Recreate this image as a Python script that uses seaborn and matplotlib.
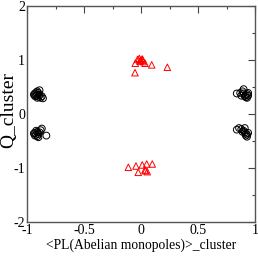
import matplotlib
matplotlib.use("Agg")
import matplotlib.pyplot as plt
from matplotlib.ticker import MultipleLocator
import seaborn as sns
import pandas as pd

# Black open circles (clusters near x = +-0.9)
circle_x = [-0.93, -0.92, -0.91, -0.90, -0.92, -0.93, -0.91, -0.89, -0.90, -0.94, -0.88, -0.87, -0.86, -0.89, -0.91,
            -0.93, -0.92, -0.91, -0.90, -0.93, -0.94, -0.91, -0.89, -0.92, -0.88, -0.87, -0.83, -0.90,
            0.92, 0.93, 0.91, 0.94, 0.92, 0.90, 0.93, 0.89, 0.87, 0.84, 0.90, 0.94, 0.88,
            0.92, 0.93, 0.91, 0.94, 0.92, 0.90, 0.88, 0.86, 0.84, 0.93, 0.89, 0.91]
circle_y = [0.38, 0.40, 0.36, 0.39, 0.34, 0.33, 0.42, 0.35, 0.32, 0.36, 0.30, 0.33, 0.29, 0.44, 0.30,
            -0.35, -0.38, -0.33, -0.37, -0.40, -0.36, -0.41, -0.34, -0.31, -0.30, -0.27, -0.40, -0.43,
            0.35, 0.37, 0.33, 0.34, 0.31, 0.38, 0.30, 0.42, 0.39, 0.38, 0.46, 0.39, 0.34,
            -0.36, -0.38, -0.34, -0.35, -0.40, -0.31, -0.28, -0.26, -0.29, -0.42, -0.33, -0.26]

# Red open triangles (clusters near x = 0)
tri_x = [-0.05, -0.03, -0.015, -0.003, 0.015, 0.035, 0.094, 0.231, -0.053, 0.0, -0.01, 0.02, 0.01,
         -0.111, -0.044, -0.024, 0.011, 0.05, 0.099, 0.035, 0.055, 0.04]
tri_y = [0.94, 1.01, 1.03, 0.99, 1.0, 0.94, 0.91, 0.865, 0.765, 1.0, 0.98, 0.97, 1.02,
         -0.987, -0.963, -1.08, -0.944, -0.926, -0.926, -1.037, -1.068, -1.05]

x_ticks = [-1, -0.5, 0, 0.5, 1]
x_tick_labels = ["-1", "-0.5", "0", "0.5", "1"]
y_ticks = [-2, -1, 0, 1, 2]
y_tick_labels = ["-2", "-1", "0", "1", "2"]

sns.set_theme(style="white")
plt.rcParams["font.family"] = ["Liberation Serif", "DejaVu Serif"]
plt.rcParams["axes.unicode_minus"] = False

fig = plt.figure(figsize=(2.58, 2.58), dpi=100)
ax = fig.add_axes([27/258, 36/258, 228/258, 216/258])

df_c = pd.DataFrame({"x": circle_x, "y": circle_y})
df_t = pd.DataFrame({"x": tri_x, "y": tri_y})
sns.scatterplot(data=df_c, x="x", y="y", ax=ax, marker="o", s=24,
                facecolors="none", edgecolor="black", linewidth=0.7)
sns.scatterplot(data=df_t, x="x", y="y", ax=ax, marker="^", s=22,
                facecolors="none", edgecolor="red", linewidth=0.7)

ax.set_xlim(-1, 1)
ax.set_ylim(-2, 2)
ax.set_xticks(x_ticks)
ax.set_xticklabels(x_tick_labels)
ax.set_yticks(y_ticks)
ax.set_yticklabels(y_tick_labels)
ax.xaxis.set_minor_locator(MultipleLocator(0.25))
ax.yaxis.set_minor_locator(MultipleLocator(0.5))
ax.tick_params(which="both", direction="in", top=True, right=True, color="#444444", width=0.8)
ax.tick_params(which="major", length=5, labelsize=10, pad=1.5, labelcolor="black")
ax.tick_params(which="minor", length=2.5)
for sp in ax.spines.values():
    sp.set_color("#555555")
    sp.set_linewidth(1.0)

ax.set_xlabel("<PL(Abelian monopoles)>_cluster", fontsize=9.8, labelpad=1, color="black")
ax.set_ylabel("Q_cluster", fontsize=14, color="black")
ax.yaxis.set_label_coords(-0.043, 0.52)

fig.savefig("out.png", dpi=100)
